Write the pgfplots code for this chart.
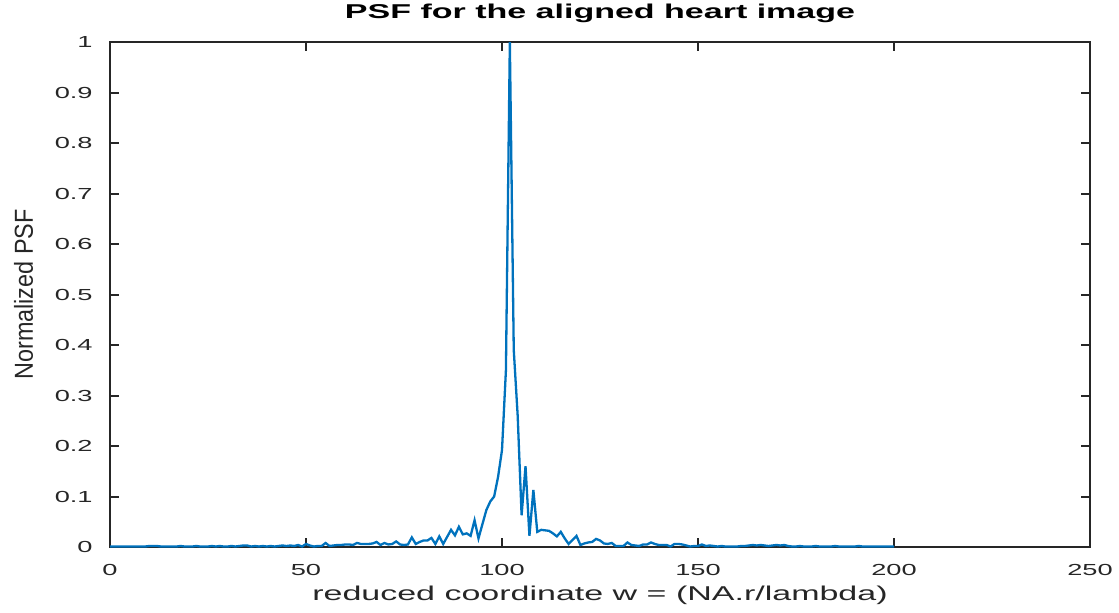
\documentclass[border=0pt]{standalone}
\usepackage{fontspec}
\setmainfont[FakeStretch=1.7]{Liberation Sans}
\newfontfamily\ylabfont[FakeStretch=0.9]{Liberation Sans}
\usepackage{pgfplots}
\pgfplotsset{compat=1.18}
\usepackage{pgfplotstable}
\definecolor{mblue}{rgb}{0,0.447,0.741}
\definecolor{axgray}{rgb}{0.15,0.15,0.15}
\pgfplotstableread{
x y
0 0.001
1 0.001
2 0.001
3 0.001
4 0.001
5 0.001
6 0.001
7 0.001
8 0.001
9 0.001
10 0.002
11 0.002
12 0.002
13 0.001
14 0.001
15 0.001
16 0.001
17 0.001
18 0.002
19 0.001
20 0.001
21 0.001
22 0.002
23 0.001
24 0.001
25 0.001
26 0.002
27 0.001
28 0.002
29 0.001
30 0.001
31 0.002
32 0.001
33 0.002
34 0.003
35 0.003
36 0.001
37 0.002
38 0.001
39 0.002
40 0.001
41 0.002
42 0.001
43 0.002
44 0.003
45 0.002
46 0.003
47 0.002
48 0.004
49 0.001
50 0.006
51 0.003
52 0.001
53 0.002
54 0.002
55 0.008
56 0.002
57 0.003
58 0.004
59 0.004
60 0.005
61 0.005
62 0.004
63 0.008
64 0.006
65 0.006
66 0.006
67 0.007
68 0.010
69 0.004
70 0.008
71 0.005
72 0.006
73 0.011
74 0.005
75 0.004
76 0.005
77 0.019
78 0.006
79 0.010
80 0.013
81 0.013
82 0.018
83 0.006
84 0.021
85 0.006
86 0.020
87 0.034
88 0.023
89 0.040
90 0.025
91 0.027
92 0.022
93 0.053
94 0.017
95 0.045
96 0.073
97 0.090
98 0.100
99 0.139
100 0.192
101 0.350
102 1.000
103 0.390
104 0.260
105 0.063
106 0.160
107 0.022
108 0.113
109 0.030
110 0.034
111 0.033
112 0.032
113 0.027
114 0.021
115 0.030
116 0.017
117 0.006
118 0.014
119 0.022
120 0.004
121 0.007
122 0.009
123 0.010
124 0.016
125 0.013
126 0.007
127 0.006
128 0.008
129 0.002
130 0.002
131 0.002
132 0.009
133 0.004
134 0.003
135 0.002
136 0.005
137 0.005
138 0.009
139 0.006
140 0.004
141 0.004
142 0.004
143 0.001
144 0.006
145 0.006
146 0.005
147 0.003
148 0.001
149 0.002
150 0.002
151 0.005
152 0.002
153 0.003
154 0.002
155 0.001
156 0.002
157 0.001
158 0.001
159 0.001
160 0.001
161 0.002
162 0.002
163 0.003
164 0.004
165 0.003
166 0.004
167 0.003
168 0.002
169 0.003
170 0.004
171 0.003
172 0.004
173 0.002
174 0.001
175 0.001
176 0.002
177 0.001
178 0.001
179 0.001
180 0.002
181 0.001
182 0.001
183 0.001
184 0.001
185 0.002
186 0.001
187 0.001
188 0.001
189 0.001
190 0.001
191 0.002
192 0.001
193 0.001
194 0.001
195 0.001
196 0.001
197 0.001
198 0.001
199 0.001
200 0.001
}\psfdata
\begin{document}
\begin{tikzpicture}
\begin{axis}[
  at={(55pt,32.5pt)}, anchor=south west,
  scale only axis,
  width=490pt, height=252.5pt,
  xmin=0, xmax=250, ymin=0, ymax=1,
  xtick={0,50,100,150,200,250},
  ytick={0,0.1,0.2,0.3,0.4,0.5,0.6,0.7,0.8,0.9,1},
  yticklabels={0,0.1,0.2,0.3,0.4,0.5,0.6,0.7,0.8,0.9,1},
  /pgf/number format/assume math mode=true,
  tick align=inside,
  major tick length=4.5pt,
  tick style={axgray, line width=1pt},
  axis line style={axgray, line width=1pt},
  every tick label/.append style={font=\fontsize{8}{9}\selectfont, text=axgray},
  xticklabel style={anchor=base, yshift=-14.4pt},
  yticklabel style={anchor=east, inner sep=0pt, xshift=-8.5pt},
  title={PSF for the aligned heart image},
  title style={at={(axis description cs:0.5,1.0218)}, anchor=base, font=\fontsize{10}{12}\selectfont\bfseries, text=black, inner sep=0pt},
  xlabel={reduced coordinate w = (NA.r/lambda)},
  xlabel style={at={(axis description cs:0.5,-0.105)}, anchor=base, font=\fontsize{10}{12}\selectfont, text=axgray, inner sep=0pt},
  ylabel={Normalized PSF},
  ylabel style={at={(axis description cs:-0.0883,0.5)}, anchor=center, font=\ylabfont\fontsize{13}{15}\selectfont, text=axgray, inner sep=0pt},
]
\addplot[mblue, line width=1.15pt, mark=none] table[x=x,y=y] {\psfdata};
\end{axis}
\pgfresetboundingbox
\path (0,0) rectangle (559.5pt,306pt);
\end{tikzpicture}
\end{document}
